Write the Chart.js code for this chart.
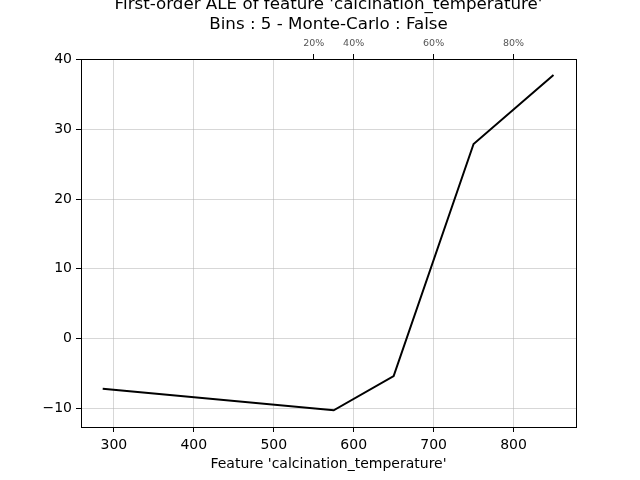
<!DOCTYPE html>
<html>
<head>
<meta charset="utf-8">
<script src="https://cdn.jsdelivr.net/npm/chart.js@4"></script>
<style>
html,body{margin:0;padding:0;background:#fff;}
#wrap{width:640px;height:480px;}
</style>
</head>
<body>
<div id="wrap"><canvas id="c" width="640" height="480"></canvas></div>
<script>
const featureValues = [286, 575, 650, 750, 850];
const aleValues = [-7.2, -10.3, -5.4, 27.9, 37.8];
const xTicks = [300, 400, 500, 600, 700, 800];
const yTicks = [-10, 0, 10, 20, 30, 40];
const yTickLabels = ['\u221210', '0', '10', '20', '30', '40'];
const quantileTicks = [550, 600, 700, 800];
const quantileLabels = ['20%', '40%', '60%', '80%'];
const titleLines = ["First-order ALE of feature 'calcination_temperature'", "Bins : 5 - Monte-Carlo : False"];
const xLabel = "Feature 'calcination_temperature'";

const FONT = "'DejaVu Sans', sans-serif";
const xMin = 258.85, xMax = 878.15, yMin = -12.7, yMax = 40.1;

const framePlugin = {
  id: 'frame',
  afterDraw(chart) {
    const {ctx, chartArea: a} = chart;
    ctx.save();
    ctx.strokeStyle = '#000';
    ctx.lineWidth = 1;
    ctx.strokeRect(Math.round(a.left) + 0.5, Math.round(a.top) + 0.5, Math.round(a.right - a.left), Math.round(a.bottom - a.top));
    ctx.fillStyle = '#000';
    ctx.font = '16.7px ' + FONT;
    ctx.textAlign = 'center';
    ctx.textBaseline = 'middle';
    const cx = (a.left + a.right) / 2;
    ctx.fillText(titleLines[0], cx, 5);
    ctx.fillText(titleLines[1], cx, 25);
    ctx.restore();
  }
};

new Chart(document.getElementById('c'), {
  type: 'line',
  data: {
    datasets: [{
      data: featureValues.map((x, i) => ({x: x, y: aleValues[i]})),
      borderColor: '#000',
      borderWidth: 2,
      pointRadius: 0,
      fill: false,
      tension: 0
    }]
  },
  options: {
    responsive: false,
    animation: false,
    events: [],
    layout: {padding: {left: 0, right: 64, top: 0, bottom: 0}},
    plugins: {legend: {display: false}, tooltip: {enabled: false}, title: {display: false}},
    scales: {
      x: {
        type: 'linear', position: 'bottom', min: xMin, max: xMax,
        afterBuildTicks: s => { s.ticks = xTicks.map(v => ({value: v})); },
        afterFit: s => { s.height = 53; },
        ticks: {color: '#000', font: {family: FONT, size: 14}, padding: 5, maxRotation: 0, autoSkip: false},
        grid: {color: 'rgba(176,176,176,0.5)', lineWidth: 1, tickLength: 5, tickColor: '#000'},
        border: {color: '#000', width: 1},
        title: {display: true, text: xLabel, color: '#000', font: {family: FONT, size: 14}, padding: {top: 0, bottom: 7}}
      },
      x2: {
        type: 'linear', position: 'top', min: xMin, max: xMax,
        afterBuildTicks: s => { s.ticks = quantileTicks.map(v => ({value: v})); },
        afterFit: s => { s.height = 59; },
        ticks: {color: '#555', font: {family: FONT, size: 9.5}, padding: 5, maxRotation: 0, autoSkip: false,
          callback: (v) => quantileLabels[quantileTicks.indexOf(v)]},
        grid: {drawOnChartArea: false, tickLength: 5, tickColor: '#000'},
        border: {color: '#000', width: 1}
      },
      y: {
        type: 'linear', position: 'left', min: yMin, max: yMax,
        afterBuildTicks: s => { s.ticks = yTicks.map(v => ({value: v})); },
        afterFit: s => { s.width = 81; },
        ticks: {color: '#000', font: {family: FONT, size: 14}, padding: 4,
          callback: (v) => yTickLabels[yTicks.indexOf(v)]},
        grid: {color: 'rgba(176,176,176,0.5)', lineWidth: 1, tickLength: 5, tickColor: '#000'},
        border: {color: '#000', width: 1}
      }
    }
  },
  plugins: [framePlugin]
});
</script>
</body>
</html>
